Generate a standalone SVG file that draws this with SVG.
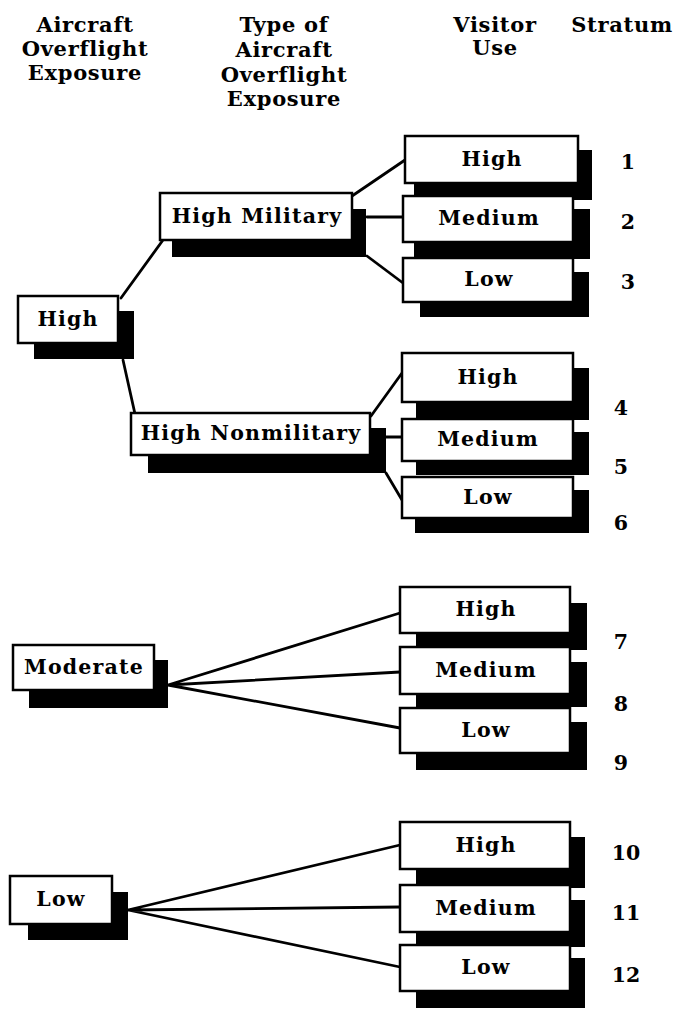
<svg xmlns="http://www.w3.org/2000/svg" width="675" height="1009" viewBox="0 0 675 1009">
<style>
.bg{fill:#fff}
.sh{fill:#000}
.bx{fill:#fff;stroke:#000;stroke-width:2.5}
.lb{font-family:"DejaVu Serif","Liberation Serif",serif;font-weight:bold;font-size:20.5px;letter-spacing:1.2px;text-anchor:middle;fill:#000}
.hd{font-family:"DejaVu Serif","Liberation Serif",serif;font-weight:bold;font-size:21px;letter-spacing:0.7px;text-anchor:middle;fill:#000}
.num{font-family:"DejaVu Serif","Liberation Serif",serif;font-weight:bold;font-size:20.5px;text-anchor:middle;fill:#000}
.cn{fill:none;stroke:#000;stroke-width:2.8;stroke-linecap:round}
</style>
<rect class="bg" x="0" y="0" width="675" height="1009"/>
<g id="headers">
<text class="hd" x="85" y="32">Aircraft</text>
<text class="hd" x="85" y="56">Overflight</text>
<text class="hd" x="85" y="80">Exposure</text>
<text class="hd" x="284" y="32">Type of</text>
<text class="hd" x="284" y="57">Aircraft</text>
<text class="hd" x="284" y="82">Overflight</text>
<text class="hd" x="284" y="106">Exposure</text>
<text class="hd" x="495" y="32">Visitor</text>
<text class="hd" x="495" y="55">Use</text>
<text class="hd" x="622" y="32">Stratum</text>
</g>
<g id="connectors">
<path class="cn" d="M121,298 L163,240"/>
<path class="cn" d="M123,360 L135,414"/>
<path class="cn" d="M352,196 L405,160"/>
<path class="cn" d="M367,217 L403,217"/>
<path class="cn" d="M367,256 L403,283"/>
<path class="cn" d="M371,416 L402,373"/>
<path class="cn" d="M386,437 L402,437"/>
<path class="cn" d="M386,473 L402,500"/>
<path class="cn" d="M168,685 L400,613 M168,685 L400,672 M168,685 L400,728"/>
<path class="cn" d="M128,910 L400,845 M128,910 L400,907 M128,910 L400,967"/>
</g>
<g id="n-high"><rect class="sh" x="34" y="311" width="100" height="48"/><rect class="bx" x="18" y="296" width="100" height="47"/><text class="lb" x="68" y="326">High</text></g>
<g id="n-moderate"><rect class="sh" x="29" y="660" width="139" height="48"/><rect class="bx" x="13" y="645" width="141" height="45"/><text class="lb" x="84" y="674">Moderate</text></g>
<g id="n-low"><rect class="sh" x="28" y="892" width="100" height="48"/><rect class="bx" x="10" y="876" width="102" height="48"/><text class="lb" x="61" y="906">Low</text></g>
<g id="n-high-military"><rect class="sh" x="172" y="209" width="194" height="48"/><rect class="bx" x="160" y="193" width="192" height="47"/><text class="lb" x="257" y="223">High Military</text></g>
<g id="n-high-nonmilitary"><rect class="sh" x="148" y="428" width="238" height="45"/><rect class="bx" x="131" y="413" width="239" height="42"/><text class="lb" x="251" y="440">High Nonmilitary</text></g>
<g id="s1"><rect class="sh" x="414" y="150" width="178" height="50"/><rect class="bx" x="405" y="136" width="173" height="47"/><text class="lb" x="492" y="166">High</text></g>
<g id="s2"><rect class="sh" x="414" y="209" width="176" height="50"/><rect class="bx" x="403" y="196" width="170" height="46"/><text class="lb" x="489" y="225">Medium</text></g>
<g id="s3"><rect class="sh" x="420" y="272" width="169" height="45"/><rect class="bx" x="403" y="258" width="170" height="44"/><text class="lb" x="489" y="286">Low</text></g>
<g id="s4"><rect class="sh" x="416" y="368" width="173" height="52"/><rect class="bx" x="402" y="353" width="171" height="49"/><text class="lb" x="488" y="384">High</text></g>
<g id="s5"><rect class="sh" x="416" y="432" width="173" height="43"/><rect class="bx" x="402" y="419" width="171" height="42"/><text class="lb" x="488" y="446">Medium</text></g>
<g id="s6"><rect class="sh" x="415" y="490" width="174" height="43"/><rect class="bx" x="402" y="477" width="171" height="41"/><text class="lb" x="488" y="504">Low</text></g>
<g id="s7"><rect class="sh" x="416" y="603" width="171" height="47"/><rect class="bx" x="400" y="587" width="170" height="46"/><text class="lb" x="486" y="616">High</text></g>
<g id="s8"><rect class="sh" x="416" y="662" width="171" height="45"/><rect class="bx" x="400" y="647" width="170" height="47"/><text class="lb" x="486" y="677">Medium</text></g>
<g id="s9"><rect class="sh" x="416" y="722" width="171" height="48"/><rect class="bx" x="400" y="708" width="170" height="45"/><text class="lb" x="486" y="737">Low</text></g>
<g id="s10"><rect class="sh" x="416" y="837" width="169" height="51"/><rect class="bx" x="400" y="822" width="170" height="47"/><text class="lb" x="486" y="852">High</text></g>
<g id="s11"><rect class="sh" x="416" y="900" width="169" height="47"/><rect class="bx" x="400" y="885" width="170" height="47"/><text class="lb" x="486" y="915">Medium</text></g>
<g id="s12"><rect class="sh" x="416" y="958" width="169" height="50"/><rect class="bx" x="400" y="945" width="170" height="46"/><text class="lb" x="486" y="974">Low</text></g>
<g id="stratum-numbers">
<text class="num" x="628" y="169">1</text>
<text class="num" x="628" y="229">2</text>
<text class="num" x="628" y="289">3</text>
<text class="num" x="621" y="415">4</text>
<text class="num" x="621" y="474">5</text>
<text class="num" x="621" y="530">6</text>
<text class="num" x="621" y="649">7</text>
<text class="num" x="621" y="711">8</text>
<text class="num" x="621" y="770">9</text>
<text class="num" x="626" y="860">10</text>
<text class="num" x="626" y="920">11</text>
<text class="num" x="626" y="982">12</text>
</g>
</svg>
